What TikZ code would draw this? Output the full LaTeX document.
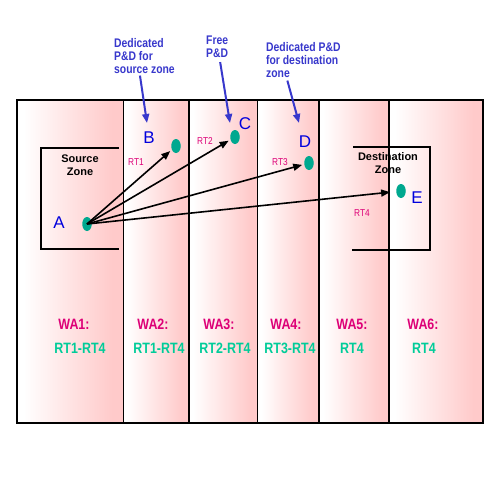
\documentclass[tikz,border=0pt]{standalone}
\usepackage{fontspec}
\setmainfont{Liberation Sans}
\newfontfamily\narrowsf[FakeStretch=0.83]{Liberation Sans}
\usetikzlibrary{shapes.geometric,arrows.meta}
\definecolor{aislepink}{HTML}{FFCACA}
\definecolor{wamagenta}{HTML}{DD0077}
\definecolor{rtteal}{HTML}{00CC99}
\definecolor{dotteal}{HTML}{00A88F}
\definecolor{ptblue}{HTML}{0000DD}
\definecolor{noteblue}{HTML}{3838CC}
\pgfdeclarehorizontalshading{aislefade}{100bp}{color(0bp)=(white); color(28bp)=(white); color(70bp)=(aislepink); color(100bp)=(aislepink)}
\newcommand{\drawaisles}[1] {
    \foreach \xa/\xb in #1 {
      \shade[shading=aislefade] (\xa,100) rectangle (\xb,423); % white to pink
    }
}
\newcommand{\drawwalls}[1] {
    \foreach \xw/\lw in #1 {
      \draw[line width=\lw] (\xw,100) -- (\xw,423);
    }
}

\begin{document}
\begin{tikzpicture}[x=1pt, y=-1pt,
    pd/.style={ellipse, fill=dotteal, minimum width=9.5pt, minimum height=14pt, inner sep=0pt},
    ptname/.style={text=ptblue, font=\fontsize{17}{17}\selectfont},
    rtname/.style={text=wamagenta, font=\fontsize{10}{10}\narrowsf},
    route/.style={-{Triangle[length=9pt,width=7pt]}, line width=1.6pt, shorten >=2pt},
    walabel/.style={text=wamagenta, font=\fontsize{15}{15}\narrowsf\bfseries},
    rtrange/.style={text=rtteal, font=\fontsize{15}{15}\narrowsf\bfseries},
    note/.style={text=noteblue, align=left, anchor=north west, inner sep=0pt, font=\fontsize{12.5}{13}\narrowsf\bfseries},
    callout/.style={-{Triangle[length=9pt,width=7pt]}, line width=2pt, draw=noteblue},
    zonename/.style={align=center, inner sep=0pt, font=\fontsize{11}{13}\selectfont\bfseries},
    zoneline/.style={line width=2pt}]
    \useasboundingbox (0,0) rectangle (499,499);
    \fill[white] (0,0) rectangle (499,499);
    \drawaisles{{17/123,123/189,189/257,257/319,319/389,389/483}}
    \drawwalls{{123/1pt,189/2pt,257/1pt,319/2pt,389/2pt}}
    \draw[line width=1.5pt] (17,100) rectangle (483,423);
    % zones
    \draw[zoneline] (119,148) -- (41,148) -- (41,249) -- (119,249);
    \draw[zoneline] (353,147) -- (430,147) -- (430,250) -- (352,250);
    \node[zonename] (srczone) at (80,165) {Source\\Zone};
    \node[zonename] (dstzone) at (388,163) {Destination\\Zone};
    % P&D points
    \node[pd] (A) at (87,224) {};
    \node[pd] (B) at (176,146) {};
    \node[pd] (C) at (235,137) {};
    \node[pd] (D) at (309,163) {};
    \node[pd] (E) at (401,191) {};
    \node[ptname] (nameA) at (59,223) {A};
    \node[ptname] (nameB) at (149,138) {B};
    \node[ptname] (nameC) at (245,124) {C};
    \node[ptname] (nameD) at (305,142) {D};
    \node[ptname] (nameE) at (417,198) {E};
    \draw[route] (A.center) -- (B);
    \draw[route] (A.center) -- (C);
    \draw[route] (A.center) -- (D);
    \draw[route, shorten >=6pt] (A.center) -- (E);
    \node[rtname] (rt1) at (136,162) {RT1};
    \node[rtname] (rt2) at (205,141) {RT2};
    \node[rtname] (rt3) at (280,162) {RT3};
    \node[rtname] (rt4) at (362,213) {RT4};
    % callouts
    \node[note] (srcnote) at (114,38) {Dedicated\\P\&D for\\source zone};
    \node[note] (freenote) at (206,36) {Free\\P\&D};
    \node[note] (dstnote) at (266,42) {Dedicated P\&D\\for destination\\zone};
    \coordinate (srctip) at (147,123);
    \coordinate (freetip) at (230,123);
    \coordinate (dsttip) at (299,123);
    \draw[callout] ([xshift=-4.5pt,yshift=-2pt]srcnote.south) -- (srctip);
    \draw[callout] ([xshift=3pt,yshift=-4pt]freenote.south) -- (freetip);
    \draw[callout] ([xshift=-16pt,yshift=-3pt]dstnote.south) -- (dsttip);
    % work aisles
    \foreach \n/\xa/\xr/\r in {1/74/80/RT1-RT4, 2/153/159/RT1-RT4, 3/219/225/RT2-RT4,
                               4/286/290/RT3-RT4, 5/352/352/RT4, 6/423/424/RT4} {
      \node[walabel] (wa\n) at (\xa,324) {WA\n:};
      \node[rtrange] (range\n) at (\xr,348) {\r};
    }
\end{tikzpicture}
\end{document}
